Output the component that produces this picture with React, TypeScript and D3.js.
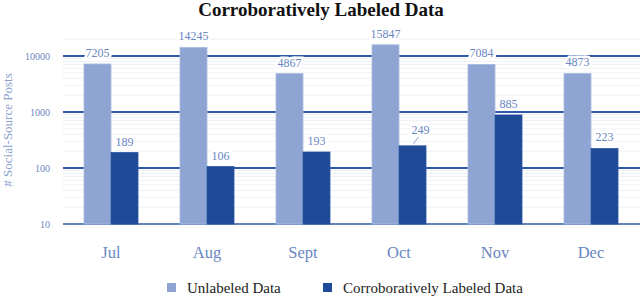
import React from "react";
import * as d3 from "d3";

const months = ["Jul", "Aug", "Sept", "Oct", "Nov", "Dec"];
const unlabeled = [7205, 14245, 4867, 15847, 7084, 4873];
const corroborated = [189, 106, 193, 249, 885, 223];
const yTicks = [10, 100, 1000, 10000];
const seriesNames = ["Unlabeled Data", "Corroboratively Labeled Data"];

const W = 640;
const H = 297;
const FONT = "'Liberation Serif', 'DejaVu Serif', serif";
const C_LIGHT = "#8ea4d2";
const C_DARK = "#1f4a98";
const C_GRID = "#3158a8";
const C_TEXT = "#6a86c2";

export default function App() {
  const x = d3
    .scaleBand<string>()
    .domain(months)
    .range([63, 639])
    .paddingInner(0.4375)
    .paddingOuter(0.21875);
  const xs = d3.scaleBand<number>().domain([0, 1]).range([0, x.bandwidth()]);
  const y = d3.scaleLog().domain([10, Math.pow(10, 4.5)]).range([224, 28]);

  // minor gridlines 20..90, 200..900 etc
  const minor: number[] = [];
  for (let e = 1; e <= 4; e++) {
    for (let m = 2; m <= 9; m++) {
      const v = m * Math.pow(10, e);
      if (v <= 20000) minor.push(v);
    }
  }

  const series = [unlabeled, corroborated];
  const colors = [C_LIGHT, C_DARK];

  return (
    <svg
      width={W}
      height={H}
      style={{ position: "absolute", left: 0, top: 0, background: "#fff" }}
      fontFamily={FONT}
    >
      <text x={321} y={16} textAnchor="middle" fontSize={19} fontWeight="bold" fill="#111">
        Corroboratively Labeled Data
      </text>

      {minor.map((v) => (
        <line key={"m" + v} x1={63} x2={W} y1={y(v)} y2={y(v)} stroke="#edf0f6" strokeWidth={1} />
      ))}
      {yTicks.map((v) => (
        <g key={"t" + v}>
          <line x1={63} x2={W} y1={y(v)} y2={y(v)} stroke={C_GRID} strokeWidth={v === 10 ? 1.5 : 1.8} />
          <text x={50} y={y(v) + 3.5} textAnchor="end" fontSize={10} fill={C_TEXT}>
            {v}
          </text>
        </g>
      ))}

      <text
        transform={`translate(12,${130}) rotate(-90)`}
        textAnchor="middle"
        fontSize={13}
        fill="#8aa1cf"
      >
        # Social-Source Posts
      </text>

      {series.map((vals, si) =>
        vals.map((v, i) => {
          const bx = x(months[i])! + xs(si)!;
          return (
            <rect
              key={`b${si}-${i}`}
              x={bx}
              y={y(v)}
              width={xs.bandwidth()}
              height={224 - y(v)}
              fill={colors[si]}
              stroke={si === 0 ? "#a9bbdf" : "#2a55a3"}
              strokeWidth={0.8}
            />
          );
        })
      )}

      {series.map((vals, si) =>
        vals.map((v, i) => {
          const cx = x(months[i])! + xs(si)! + xs.bandwidth() / 2;
          const nudge = si === 1 && months[i] === "Oct" ? 8 : 0;
          return (
            <g key={`l${si}-${i}`}>
              {nudge > 0 && (
                <line x1={cx + 1} y1={y(v) - 2} x2={cx + 6} y2={y(v) - 9} stroke={C_TEXT} strokeWidth={0.8} />
              )}
              <text
                x={cx + nudge}
                y={y(v) - (nudge > 0 ? 12 : 7)}
                textAnchor="middle"
                fontSize={12}
                fill={C_TEXT}
                stroke="#fff"
                strokeWidth={5}
                paintOrder="stroke"
              >
                {v}
              </text>
            </g>
          );
        })
      )}

      {months.map((m) => (
        <text
          key={"x" + m}
          x={x(m)! + x.bandwidth() / 2}
          y={258}
          textAnchor="middle"
          fontSize={16.5}
          fill={C_TEXT}
        >
          {m}
        </text>
      ))}

      {seriesNames.map((n, i) => {
        const lx = i === 0 ? 167 : 323;
        return (
          <g key={"lg" + i}>
            <rect x={lx} y={283} width={9} height={9} fill={colors[i]} />
            <text x={lx + 20} y={292.5} fontSize={15} fill="#222">
              {n}
            </text>
          </g>
        );
      })}
    </svg>
  );
}
